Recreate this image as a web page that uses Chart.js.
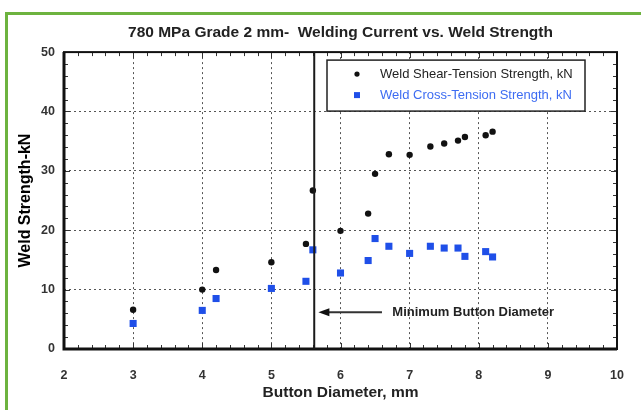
<!DOCTYPE html>
<html>
<head>
<meta charset="utf-8">
<script src="https://cdn.jsdelivr.net/npm/chart.js@4.4.1/dist/chart.umd.min.js"></script>
<style>
  html, body { margin: 0; padding: 0; background: #fff; }
  canvas { display: block; }
</style>
</head>
<body>
<canvas id="weldChart" width="641" height="410"></canvas>
<script>
// values
const buttonDiameter = [3.0, 4.0, 4.2, 5.0, 5.5, 5.6, 6.0, 6.4, 6.5, 6.7, 7.0, 7.3, 7.5, 7.7, 7.8, 8.1, 8.2];
const shearStrength = [6.6, 10.0, 13.3, 14.6, 17.7, 26.7, 19.9, 22.8, 29.5, 32.8, 32.7, 34.1, 34.6, 35.1, 35.7, 36.0, 36.6];
const crossStrength = [4.3, 6.5, 8.5, 10.2, 11.4, 16.7, 12.8, 14.9, 18.6, 17.3, 16.1, 17.3, 17.0, 17.0, 15.6, 16.4, 15.5];
const xTickValues = [2, 3, 4, 5, 6, 7, 8, 9, 10];
const yTickValues = [0, 10, 20, 30, 40, 50];

const minButtonDiameter = 5.62;
const minButtonLabel = "Minimum Button Diameter";
const minButtonLabelAt = { x: 6.75, y: 6.2 };
const minButtonArrow = { from: 6.6, to: 5.68 };

const shearColor = "#111111";
const crossColor = "#1f4fe8";
const FONT = "'Liberation Sans', Arial, sans-serif";

function toPoints(xs, ys) {
  return xs.map((x, i) => ({ x: x, y: ys[i] }));
}

const pageFrame = {
  id: "pageFrame",
  beforeDraw(chart) {
    const ctx = chart.ctx;
    ctx.save();
    ctx.fillStyle = "#ffffff";
    ctx.fillRect(0, 0, chart.width, chart.height);
    ctx.strokeStyle = "#6db33f";
    ctx.lineWidth = 3;
    ctx.strokeRect(6.5, 13.5, chart.width + 20, chart.height + 20);
    ctx.restore();
  }
};

const plotDecor = {
  id: "plotDecor",
  afterDraw(chart) {
    const ctx = chart.ctx;
    const a = chart.chartArea;
    const xs = chart.scales.x;
    const ys = chart.scales.y;
    ctx.save();

    // inward ticks on all four sides
    ctx.strokeStyle = "#333";
    ctx.lineWidth = 1;
    ctx.beginPath();
    for (let v = 2; v <= 10.001; v += 0.2) {
      const px = Math.round(xs.getPixelForValue(v)) + 0.5;
      const major = Math.abs(v - Math.round(v)) < 0.01;
      const len = major ? 6 : 4;
      ctx.moveTo(px, a.bottom); ctx.lineTo(px, a.bottom - len);
      ctx.moveTo(px, a.top); ctx.lineTo(px, a.top + len);
    }
    for (let v = 0; v <= 50.001; v += 2) {
      const py = Math.round(ys.getPixelForValue(v)) + 0.5;
      const major = v % 10 === 0;
      const len = major ? 6 : 4;
      ctx.moveTo(a.left, py); ctx.lineTo(a.left + len, py);
      ctx.moveTo(a.right, py); ctx.lineTo(a.right - len, py);
    }
    ctx.stroke();

    // plot frame
    ctx.strokeStyle = "#111";
    ctx.lineWidth = 2;
    ctx.strokeRect(a.left, a.top, a.right - a.left, a.bottom - a.top);
    ctx.lineWidth = 3;
    ctx.beginPath();
    ctx.moveTo(a.left, a.top);
    ctx.lineTo(a.left, a.bottom);
    ctx.lineTo(a.right, a.bottom);
    ctx.stroke();

    // minimum button diameter line
    const lx = xs.getPixelForValue(minButtonDiameter);
    ctx.strokeStyle = "#1a1a1a";
    ctx.lineWidth = 2;
    ctx.beginPath();
    ctx.moveTo(lx, ys.getPixelForValue(50));
    ctx.lineTo(lx, ys.getPixelForValue(0));
    ctx.stroke();

    // arrow
    const ay = ys.getPixelForValue(minButtonLabelAt.y);
    const ax0 = xs.getPixelForValue(minButtonArrow.from);
    const ax1 = xs.getPixelForValue(minButtonArrow.to);
    ctx.strokeStyle = "#333";
    ctx.lineWidth = 2;
    ctx.beginPath();
    ctx.moveTo(ax0, ay);
    ctx.lineTo(ax1 + 8, ay);
    ctx.stroke();
    ctx.fillStyle = "#111";
    ctx.beginPath();
    ctx.moveTo(ax1, ay);
    ctx.lineTo(ax1 + 11, ay - 4);
    ctx.lineTo(ax1 + 11, ay + 4);
    ctx.closePath();
    ctx.fill();

    ctx.font = "bold 13px " + FONT;
    ctx.fillStyle = "#222";
    ctx.textBaseline = "middle";
    ctx.textAlign = "left";
    ctx.fillText(minButtonLabel, xs.getPixelForValue(minButtonLabelAt.x), ay);

    // legend box
    const bx = a.right - 290, by = a.top + 8, bw = 258, bh = 51;
    ctx.fillStyle = "#fff";
    ctx.fillRect(bx, by, bw, bh);
    ctx.strokeStyle = "#222";
    ctx.lineWidth = 1.5;
    ctx.strokeRect(bx, by, bw, bh);
    ctx.font = "13px " + FONT;
    const rows = [
      { y: by + 14, text: chart.data.datasets[0].label, color: "#222", mark: shearColor, style: "circle" },
      { y: by + 35, text: chart.data.datasets[1].label, color: "#3d6cf2", mark: crossColor, style: "rect" }
    ];
    rows.forEach(r => {
      ctx.fillStyle = r.mark;
      if (r.style === "circle") {
        ctx.beginPath();
        ctx.arc(bx + 30, r.y, 2.6, 0, Math.PI * 2);
        ctx.fill();
      } else {
        ctx.fillRect(bx + 27, r.y - 3, 6, 6);
      }
      ctx.fillStyle = r.color;
      ctx.fillText(r.text, bx + 53, r.y);
    });

    ctx.restore();
  }
};

new Chart(document.getElementById("weldChart"), {
  type: "scatter",
  data: {
    datasets: [
      {
        label: "Weld Shear-Tension Strength, kN",
        data: toPoints(buttonDiameter, shearStrength),
        pointStyle: "circle",
        pointRadius: 3.2,
        backgroundColor: shearColor,
        borderColor: shearColor,
        borderWidth: 0
      },
      {
        label: "Weld Cross-Tension Strength, kN",
        data: toPoints(buttonDiameter, crossStrength),
        pointStyle: "rect",
        pointRadius: 5,
        backgroundColor: crossColor,
        borderColor: crossColor,
        borderWidth: 0
      }
    ]
  },
  options: {
    responsive: false,
    animation: false,
    events: [],
    layout: { padding: { left: 14, right: 24, top: 0, bottom: 0 } },
    plugins: {
      legend: { display: false },
      tooltip: { enabled: false },
      title: {
        display: true,
        fullSize: false,
        text: "780 MPa Grade 2 mm-  Welding Current vs. Weld Strength",
        color: "#222",
        font: { family: FONT, size: 15.5, weight: "bold" },
        padding: { top: 23, bottom: 10.5 }
      }
    },
    scales: {
      x: {
        type: "linear",
        min: 2,
        max: 10,
        afterBuildTicks: s => { s.ticks = xTickValues.map(v => ({ value: v })); },
        afterFit: s => { s.height = 61; s.paddingRight = 0; s.paddingLeft = 0; },
        ticks: {
          color: "#333",
          padding: 19,
          font: { family: FONT, size: 12.5, weight: "bold" }
        },
        grid: { color: "#555", lineWidth: 1, drawTicks: false },
        border: { display: false, dash: [2, 3] },
        title: {
          display: true,
          text: "Button Diameter, mm",
          color: "#222",
          font: { family: FONT, size: 15.5, weight: "bold" },
          padding: { top: 0, bottom: 8 }
        }
      },
      y: {
        type: "linear",
        min: 0,
        max: 50,
        afterBuildTicks: s => { s.ticks = yTickValues.map(v => ({ value: v })); },
        afterFit: s => { s.width = 50; s.paddingTop = 0; s.paddingBottom = 0; },
        ticks: {
          color: "#333",
          padding: 9,
          font: { family: FONT, size: 12.5, weight: "bold" }
        },
        grid: { color: "#555", lineWidth: 1, drawTicks: false },
        border: { display: false, dash: [2, 3] },
        title: {
          display: true,
          text: "Weld Strength-kN",
          color: "#000",
          font: { family: FONT, size: 16, weight: "bold" },
          padding: { top: 2, bottom: 0 }
        }
      }
    }
  },
  plugins: [pageFrame, plotDecor]
});
</script>
</body>
</html>
